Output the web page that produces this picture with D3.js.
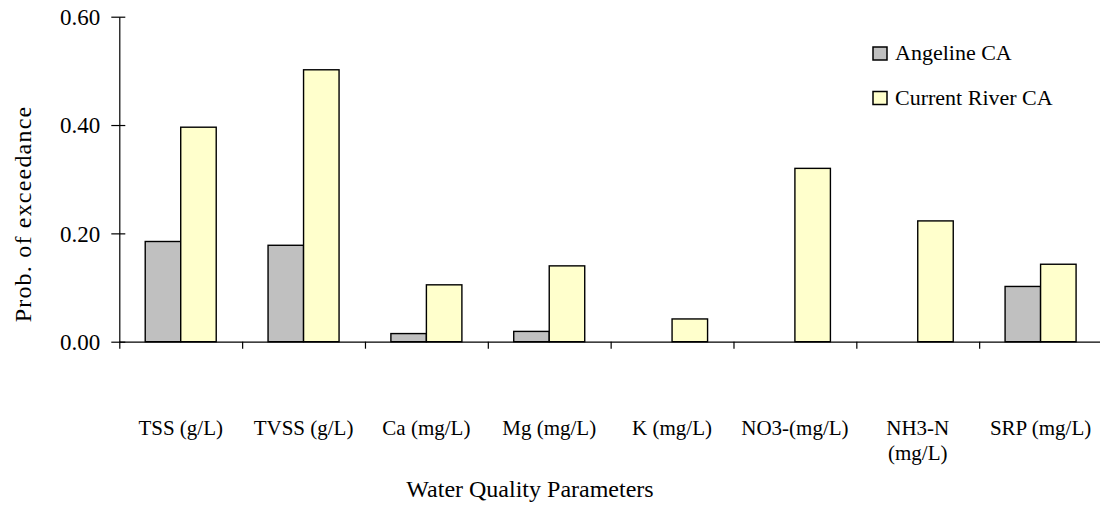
<!DOCTYPE html>
<html lang="en">
<head>
    <meta charset="UTF-8">
    <title>Prob. of exceedance</title>
    <style>
        body {
            margin: 0;
            padding: 0;
            background: #fff;
        }
        svg {
            display: block;
        }
        svg text {
            font-family: "Liberation Serif", "DejaVu Serif", serif;
            fill: #000;
        }
        .bar {
            stroke: #000;
            stroke-width: 1.4px;
        }
        .axis path, .axis line {
            stroke: #000;
            stroke-width: 1.2px;
        }
    </style>
</head>
<body>
    <div id="chart"></div>

    <script src="https://d3js.org/d3.v7.min.js"></script>
    <script>
        // Data
        const categories = ["TSS (g/L)", "TVSS (g/L)", "Ca (mg/L)", "Mg (mg/L)", "K (mg/L)", "NO3-(mg/L)", "NH3-N (mg/L)", "SRP (mg/L)"];
        const categoryLines = [["TSS (g/L)"], ["TVSS (g/L)"], ["Ca (mg/L)"], ["Mg (mg/L)"], ["K (mg/L)"], ["NO3-(mg/L)"], ["NH3-N", "(mg/L)"], ["SRP (mg/L)"]];
        const seriesNames = ["Angeline CA", "Current River CA"];
        const angeline = [0.185, 0.178, 0.015, 0.019, null, null, null, 0.102];
        const currentRiver = [0.396, 0.502, 0.105, 0.140, 0.042, 0.320, 0.223, 0.143];
        const seriesColors = ["#c0c0c0", "#ffffcc"];
        const yTicks = [0, 0.2, 0.4, 0.6];

        const W = 1100, H = 506;
        const plot = { left: 119.3, right: 1102, top: 16.7, bottom: 341.7 };
        const serif = "'Liberation Serif', 'DejaVu Serif', serif";

        const svg = d3.select("#chart").append("svg")
            .attr("width", W)
            .attr("height", H);

        const x0 = d3.scaleBand()
            .domain(categories)
            .range([plot.left, plot.right])
            .padding(0);

        const x1 = d3.scaleBand()
            .domain(seriesNames)
            .range([0, x0.bandwidth()])
            .paddingInner(0)
            .paddingOuter(0.73);

        const y = d3.scaleLinear()
            .domain([0, 0.6])
            .range([plot.bottom, plot.top]);

        // bars
        const rows = categories.map((c, i) => ({
            cat: c,
            vals: [
                { name: seriesNames[0], v: angeline[i], color: seriesColors[0] },
                { name: seriesNames[1], v: currentRiver[i], color: seriesColors[1] }
            ]
        }));

        const groups = svg.append("g").selectAll("g")
            .data(rows)
            .enter().append("g")
            .attr("transform", d => `translate(${x0(d.cat)},0)`);

        groups.selectAll("rect")
            .data(d => d.vals.filter(s => s.v != null))
            .enter().append("rect")
            .attr("class", "bar")
            .attr("x", d => x1(d.name))
            .attr("width", x1.bandwidth())
            .attr("y", d => y(d.v))
            .attr("height", d => y(0) - y(d.v))
            .attr("fill", d => d.color);

        // y axis with ticks crossing the line
        const yAxis = svg.append("g")
            .attr("class", "axis")
            .attr("transform", `translate(${plot.left},0)`)
            .call(d3.axisLeft(y).tickValues(yTicks).tickSize(8).tickSizeOuter(0).tickFormat(d3.format(".2f")));
        yAxis.attr("font-family", serif).attr("font-size", 23);
        yAxis.selectAll(".tick line").attr("x1", 6);
        yAxis.selectAll(".tick text")
            .attr("x", -19)
            .attr("dy", "0.34em");

        // x axis: line at zero with ticks at category boundaries
        const xb = d3.scaleLinear().domain([0, categories.length]).range([plot.left, plot.right]);
        svg.append("g")
            .attr("class", "axis")
            .attr("transform", `translate(0,${y(0)})`)
            .call(d3.axisBottom(xb).tickValues(d3.range(categories.length + 1)).tickSize(7).tickSizeOuter(0).tickFormat(""));

        // category labels
        const labels = svg.append("g").selectAll("text")
            .data(categories)
            .enter().append("text")
            .attr("x", d => x0(d) + x0.bandwidth() / 2)
            .attr("y", 435)
            .attr("text-anchor", "middle")
            .style("font-size", "21px");
        labels.selectAll("tspan")
            .data((d, i) => categoryLines[i])
            .enter().append("tspan")
            .attr("x", function() { return d3.select(this.parentNode).attr("x"); })
            .attr("dy", (d, i) => i === 0 ? 0 : 25)
            .text(d => d);

        // axis titles
        svg.append("text")
            .attr("x", 530)
            .attr("y", 497)
            .attr("text-anchor", "middle")
            .style("font-size", "24px")
            .text("Water Quality Parameters");

        svg.append("text")
            .attr("transform", "translate(31,214) rotate(-90)")
            .attr("text-anchor", "middle")
            .style("font-size", "24px")
            .style("letter-spacing", "1.2px")
            .text("Prob. of exceedance");

        // legend
        const legend = svg.append("g").selectAll("g")
            .data(seriesNames)
            .enter().append("g")
            .attr("transform", (d, i) => `translate(873,${47 + i * 44.5})`);
        legend.append("rect")
            .attr("width", 14)
            .attr("height", 13)
            .attr("fill", (d, i) => seriesColors[i])
            .attr("stroke", "#000")
            .attr("stroke-width", 1.5);
        legend.append("text")
            .attr("x", 22)
            .attr("y", 13)
            .style("font-size", "22px")
            .text(d => d);
    </script>
</body>
</html>
